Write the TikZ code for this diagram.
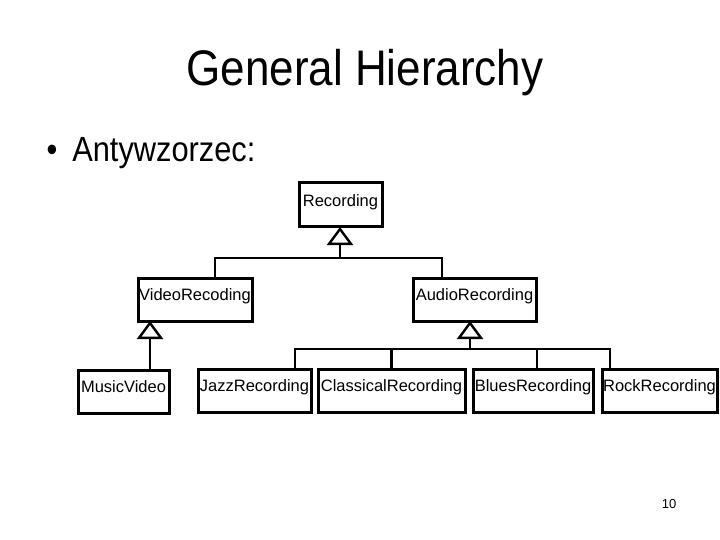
\documentclass[tikz,border=0pt]{standalone}
\usepackage{fontspec}
\setmainfont{Liberation Sans}
\newfontfamily\slidefont[FakeStretch=0.88]{Liberation Sans}
\usetikzlibrary{arrows.meta,positioning}
\tikzset{
  cls/.style={draw, line width=3pt, inner sep=0pt, outer sep=0pt, minimum height=43pt,
    text height=22pt, text depth=21pt, font=\fontsize{16.5}{18}\selectfont, anchor=north west},
  link/.style={line width=2.4pt},
  inherit/.style={link, -{Triangle[length=18pt, width=26pt, fill=white]}}
}

\begin{document}
\begin{tikzpicture}[x=1pt, y=-1pt]
  \useasboundingbox (0,0) rectangle (720,540);
  \node[font=\slidefont\fontsize{50}{56}\selectfont, anchor=base] (title) at (365,86) {General Hierarchy};
  \node[font=\slidefont\fontsize{35}{40}\selectfont, anchor=base west] (point) at (43,162)
    {\textbullet\hspace{15pt}Antywzorzec:};

  % classes
  \node[cls, minimum width=83pt, text height=24pt, text depth=20pt] (rec) at (299,183) {Recording};
  \node[cls, minimum width=114pt] (video) at (138,278) {VideoRecoding};
  \node[cls, minimum width=123pt] (audio) at (413,278) {AudioRecording};
  \node[cls, minimum width=91pt] (music) at (78,370) {MusicVideo};
  \node[cls, minimum width=113pt] (jazz) at (198,369) {JazzRecording};
  \node[cls, right=7pt of jazz, minimum width=147pt] (classical) {ClassicalRecording};
  \node[cls, right=8pt of classical, minimum width=120pt] (blues) {BluesRecording};
  \node[cls, right=9pt of blues, minimum width=115pt] (rock) {RockRecording};

  % inheritance
  \coordinate (rhub) at (340,258);
  \coordinate (vdrop) at (215,258);
  \coordinate (adrop) at (442,258);
  \draw[link] (vdrop |- video.north) -- (vdrop) -- (adrop) -- (adrop |- audio.north);
  \draw[inherit] (rhub) -- (rhub |- rec.south);

  \coordinate (vstem) at (150,340);
  \draw[inherit] (vstem |- music.north) -- (vstem |- video.south);

  \coordinate (ahub) at (470,349);
  \coordinate (jdrop) at (295,349);
  \coordinate (rdrop) at (610,349);
  \draw[link] (jdrop |- jazz.north) -- (jdrop) -- (rdrop) -- (rdrop |- rock.north);
  \draw[link] (classical.north) -- (classical.north |- ahub);
  \draw[link] (537,349) coordinate (bdrop) -- (bdrop |- blues.north);
  \draw[inherit] (ahub) -- (ahub |- audio.south);

  \node[font=\fontsize{13}{15}\selectfont, anchor=base] (page) at (669,508) {10};
\end{tikzpicture}
\end{document}
